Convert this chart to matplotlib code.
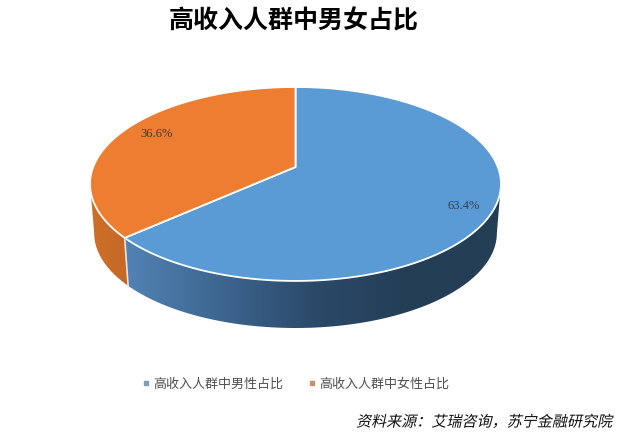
"""Tilted 3D-look pie: high-income group split by gender."""
import numpy as np
import matplotlib
matplotlib.use("Agg")
import matplotlib.pyplot as plt
from matplotlib.colors import LinearSegmentedColormap
from matplotlib.lines import Line2D
from matplotlib.patches import Polygon
from matplotlib.patheffects import AbstractPathEffect
from matplotlib.transforms import Affine2D

plt.rcParams["font.family"] = ["Noto Sans CJK SC", "DejaVu Sans"]

TITLE = "高收入人群中男女占比"
SOURCE = "资料来源：艾瑞咨询，苏宁金融研究院"
CATEGORIES = ["高收入人群中男性占比", "高收入人群中女性占比"]
VALUES = [63.4, 36.6]
LABELS = ["63.4%", "36.6%"]

TOP_COLORS = ["#5b9bd5", "#ed7d31"]
LEGEND_COLORS = ["#7f9db9", "#c98f62"]
SIDE_STOPS = [["#5283b4", "#3d6690", "#2b4a69", "#243e56", "#243e56"],
              ["#cf7029", "#c96c28", "#c46827"]]

# pixel-style axes, y goes down like the picture
CX, APEX_Y = 295.5, 167.0
A, B, K = 202.3, 94.0, 0.175
CY, DEPTH, SHRINK = 184.0, 49.0, 0.98
# clockwise angles where the projected rim is widest (cos = -K)
RIM_R = np.degrees(np.arccos(-K))
RIM_L = 360 - RIM_R


class Slant(AbstractPathEffect):
    # CJK fonts here have no italic face, so shear the glyph outlines
    def __init__(self, deg):
        super().__init__()
        self.deg = deg

    def draw_path(self, renderer, gc, tpath, affine, rgbFace=None):
        renderer.draw_path(gc, tpath, Affine2D().skew_deg(self.deg, 0) + affine, rgbFace)


def project(theta):
    # theta clockwise from 12 o'clock, in degrees; perspective so the apex sits above the ellipse centre
    t = np.radians(theta)
    u, v = np.sin(t), np.cos(t)
    w = 1 + K * v
    return CX + A * u / w, APEX_Y - B * v / w


def lower(x, y):
    return CX + (x - CX) * SHRINK, CY + (y - CY) * SHRINK + DEPTH


fig = plt.figure(figsize=(6.24, 4.34), dpi=100, facecolor="white")
ax = fig.add_axes([0, 0, 1, 1])
ax.axis("off")

edges = np.cumsum([0] + VALUES) / sum(VALUES) * 360

# side walls first, the top faces cover whatever overshoots
for i in range(2):
    start, stop = max(edges[i], RIM_R), min(edges[i + 1], RIM_L)
    th = np.linspace(start, stop, 200)
    x, y = project(th)
    xl, yl = lower(x, y)
    poly = Polygon(np.r_[np.c_[x, y], np.c_[xl, yl][::-1]], closed=True,
                   transform=ax.transData, facecolor="none", edgecolor="none")
    ax.add_patch(poly)
    cmap = LinearSegmentedColormap.from_list("side", SIDE_STOPS[i])
    x0, x1 = np.r_[x, xl].min(), np.r_[x, xl].max()
    y0, y1 = np.r_[y, yl].min(), np.r_[y, yl].max()
    im = ax.imshow(np.linspace(0, 1, 256).reshape(1, -1), cmap=cmap, aspect="auto",
                   extent=(x0, x1, y1, y0), zorder=1)
    im.set_clip_path(poly)

ax.set_xlim(0, 624)
ax.set_ylim(434, 0)

# seam between the two walls
sx, sy = project(edges[1])
lx, ly = lower(sx, sy)
ax.plot([sx, lx], [sy, ly], color="#f3e3d6", lw=1.2, zorder=2)

for i in range(2):
    th = np.linspace(edges[i], edges[i + 1], 300)
    x, y = project(th)
    pts = np.r_[[[CX, APEX_Y]], np.c_[x, y]]
    ax.add_patch(Polygon(pts, closed=True, facecolor=TOP_COLORS[i], edgecolor="white",
                         lw=1.3, joinstyle="round", zorder=3))

ax.text(464, 206, LABELS[0], family="Liberation Serif", fontsize=9, color="#333f4d",
        ha="center", va="center", zorder=4)
ax.text(157, 134, LABELS[1], family="Liberation Serif", fontsize=9, color="#4a3428",
        ha="center", va="center", zorder=4)

ax.text(294, 21, TITLE, fontsize=18, fontweight="bold", color="black", ha="center", va="center")

handles = [Line2D([], [], ls="none", marker="s", ms=3.2, color=c, label=n)
           for c, n in zip(LEGEND_COLORS, CATEGORIES)]
ax.legend(handles=handles, ncol=2, frameon=False, loc="center", bbox_to_anchor=(295 / 624, 1 - 384 / 434),
          fontsize=9.4, labelcolor="#505050", handletextpad=0.1, columnspacing=1.75, handlelength=0.9)

src = ax.text(611, 422, SOURCE, fontsize=10.85, color="#111111", ha="right", va="center")
src.set_path_effects([Slant(12)])

fig.savefig("out.png", dpi=100)
